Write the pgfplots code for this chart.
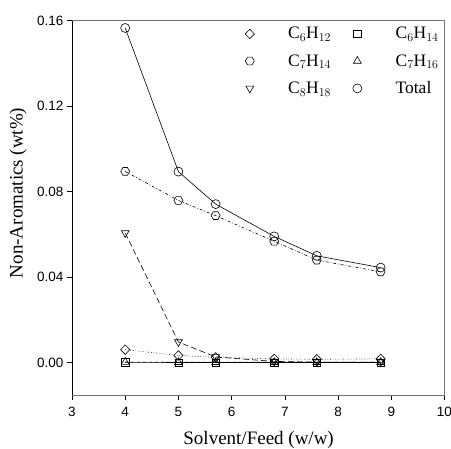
\documentclass[border=0pt]{standalone}
\usepackage{fontspec}
\setmainfont{Liberation Serif}
\setsansfont{Liberation Sans}
\usepackage{pgfplots}
\pgfplotsset{compat=1.18}

\pgfdeclareplotmark{hexagon}{%
  \pgfpathmoveto{\pgfqpointpolar{0}{\pgfplotmarksize}}%
  \pgfpathlineto{\pgfqpointpolar{60}{\pgfplotmarksize}}%
  \pgfpathlineto{\pgfqpointpolar{120}{\pgfplotmarksize}}%
  \pgfpathlineto{\pgfqpointpolar{180}{\pgfplotmarksize}}%
  \pgfpathlineto{\pgfqpointpolar{240}{\pgfplotmarksize}}%
  \pgfpathlineto{\pgfqpointpolar{300}{\pgfplotmarksize}}%
  \pgfpathclose
  \pgfusepathqstroke}

\begin{document}
\begin{tikzpicture}
  \path[use as bounding box] (-72pt,-54pt) rectangle (379pt,395pt);
  \begin{axis}[
      scale only axis, width=372.5pt, height=374.3pt,
      xmin=3, xmax=10, ymin=-0.0151, ymax=0.16,
      xtick={3,...,10}, ytick={0,0.04,0.08,0.12,0.16},
      yticklabel style={/pgf/number format/.cd, fixed, fixed zerofill, precision=2},
      xticklabel style={yshift=-4pt},
      scaled y ticks=false,
      /pgf/number format/assume math mode=true,
      ticklabel style={font=\sffamily\fontsize{13.5}{15}\selectfont},
      tick align=outside, xtick pos=left, ytick pos=left,
      major tick length=5pt,
      tick style={black, line width=0.6pt},
      axis line style={black!55, line width=0.6pt},
      xlabel={Solvent/Feed (w/w)}, ylabel={Non-Aromatics (wt\%)},
      label style={font=\fontsize{19}{21}\selectfont},
      xlabel style={at={(axis description cs:0.501,-0.12)}, anchor=center},
      ylabel style={at={(axis description cs:-0.145,0.54)}, anchor=center},
      every axis plot/.append style={black, line width=0.6pt, mark size=4.5pt},
      legend columns=2,
      legend style={at={(rel axis cs:0.99,0.988)}, anchor=north east,
        draw=none, fill=none, inner sep=0pt, font=\fontsize{17.5}{19}\selectfont,
        row sep=10pt, column sep=18pt},
      legend cell align=left,
      legend image code/.code={\path (-6pt,0pt) (18pt,0pt);
        \draw[#1, only marks] plot coordinates {(0pt,0pt)};},
    ]
    \addplot[dotted, mark=diamond, mark options={solid, fill=white, xscale=1.3, scale=1.05}] coordinates {
      (4,0.0061) (5,0.0034) (5.7,0.0025) (6.8,0.0018) (7.6,0.0016) (8.8,0.0018)};
    \addplot[solid, mark=square, mark options={solid, fill=white, scale=0.8}] coordinates {
      (4,0.0002) (5,0.0001) (5.7,0.0001) (6.8,0.0001) (7.6,0.0001) (8.8,0.0001)};
    \addplot[dash dot, mark=hexagon, mark options={solid, fill=white}] coordinates {
      (4,0.0895) (5,0.0759) (5.7,0.0688) (6.8,0.0568) (7.6,0.0480) (8.8,0.0425)};
    \addplot[dashed, mark=triangle, mark options={solid, fill=white}] coordinates {
      (4,0.0003) (5,0.0002) (5.7,0.0002) (6.8,0.0002) (7.6,0.0002) (8.8,0.0002)};
    \addplot[dash pattern=on 6pt off 3pt, mark=triangle, mark options={solid, fill=white, rotate=180}] coordinates {
      (4,0.0607) (5,0.0097) (5.7,0.0027) (6.8,0.0006) (7.6,0.0003) (8.8,0.0003)};
    \addplot[solid, mark=o, mark options={solid, fill=white}] coordinates {
      (4,0.1566) (5,0.0894) (5.7,0.0742) (6.8,0.0591) (7.6,0.0500) (8.8,0.0445)};
    \legend{C$_6$H$_{12}$, C$_6$H$_{14}$, C$_7$H$_{14}$, C$_7$H$_{16}$, C$_8$H$_{18}$, Total}
    \draw[black, line width=0.6pt] (rel axis cs:0,0) -- (rel axis cs:1,0);
    \draw[black, line width=0.6pt] (rel axis cs:0,0) -- (rel axis cs:0,1);
  \end{axis}
\end{tikzpicture}
\end{document}
